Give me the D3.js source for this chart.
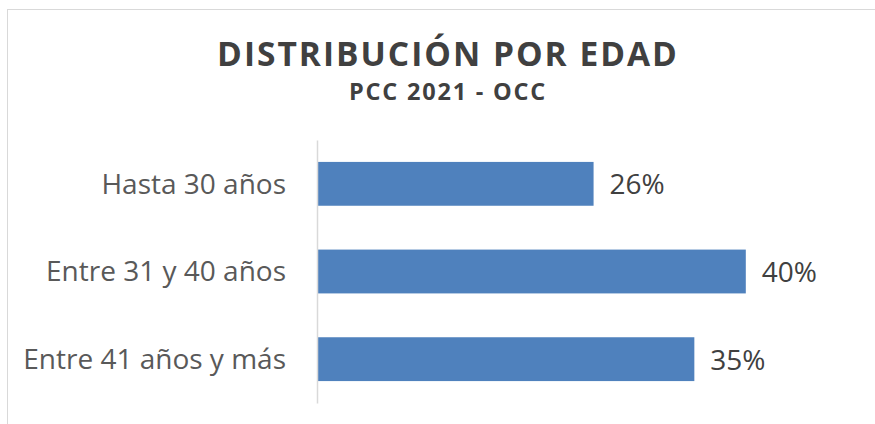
<!DOCTYPE html>
<html>
<head>
<meta charset="utf-8">
<script src="https://cdnjs.cloudflare.com/ajax/libs/d3/7.8.5/d3.min.js"></script>
<style>
  body { margin: 0; background: #fff; }
  svg { display: block; }
</style>
</head>
<body>
<div id="chart"></div>
<script>
// data
var categories = ['Hasta 30 años', 'Entre 31 y 40 años', 'Entre 41 años y más'];
var values = [0.258, 0.40, 0.352];
var titleText = 'DISTRIBUCIÓN POR EDAD';
var subtitleText = 'PCC 2021 - OCC';

var width = 875, height = 424;

var svg = d3.select('#chart')
  .append('svg')
  .attr('width', width)
  .attr('height', height);

// chart frame (only left/top edges fall inside the window)
svg.append('rect')
  .attr('x', 7.5)
  .attr('y', 9.5)
  .attr('width', 900)
  .attr('height', 450)
  .attr('fill', '#fff')
  .attr('stroke', '#d9d9d9')
  .attr('stroke-width', 1);

// title
svg.append('text')
  .attr('x', 448)
  .attr('y', 66)
  .attr('text-anchor', 'middle')
  .style('font-family', '"Open Sans", sans-serif')
  .style('font-weight', 700)
  .style('font-size', '33.5px')
  .style('letter-spacing', '2px')
  .style('fill', '#404040')
  .text(titleText);

svg.append('text')
  .attr('x', 448)
  .attr('y', 100)
  .attr('text-anchor', 'middle')
  .style('font-family', '"Open Sans", sans-serif')
  .style('font-weight', 700)
  .style('font-size', '23.5px')
  .style('letter-spacing', '1.8px')
  .style('fill', '#404040')
  .text(subtitleText);

// scales
var x = d3.scaleLinear().domain([0, 0.5]).range([317, 853]);
var y = d3.scaleBand()
  .domain(categories)
  .range([140, 403])
  .paddingInner(0.5)
  .paddingOuter(0.25);

var data = categories.map(function(c, i) { return {cat: c, val: values[i]}; });

// bars
svg.selectAll('.bar')
  .data(data)
  .enter().append('rect')
  .attr('class', 'bar')
  .attr('x', x(0))
  .attr('y', function(d) { return y(d.cat); })
  .attr('width', function(d) { return x(d.val) - x(0); })
  .attr('height', y.bandwidth())
  .attr('fill', '#4f81bd');

// category axis
var yAxis = svg.append('g')
  .attr('class', 'yaxis')
  .attr('transform', 'translate(' + x(0) + ',0)')
  .call(d3.axisLeft(y).tickSize(0).tickPadding(31));

yAxis.select('.domain')
  .attr('stroke', '#d9d9d9')
  .attr('stroke-width', 1.5);

yAxis.selectAll('text')
  .style('font-family', '"Open Sans", sans-serif')
  .style('font-size', '28px')
  .style('fill', '#595959')
  .attr('dy', '0.35em');

// value labels
svg.selectAll('.label')
  .data(data)
  .enter().append('text')
  .attr('class', 'label')
  .attr('x', function(d) { return x(d.val) + 16; })
  .attr('y', function(d) { return y(d.cat) + y.bandwidth() / 2; })
  .attr('dy', '0.38em')
  .style('font-family', '"Open Sans", sans-serif')
  .style('font-size', '28px')
  .style('fill', '#404040')
  .text(function(d) { return d3.format('.0%')(d.val); });
</script>
</body>
</html>
